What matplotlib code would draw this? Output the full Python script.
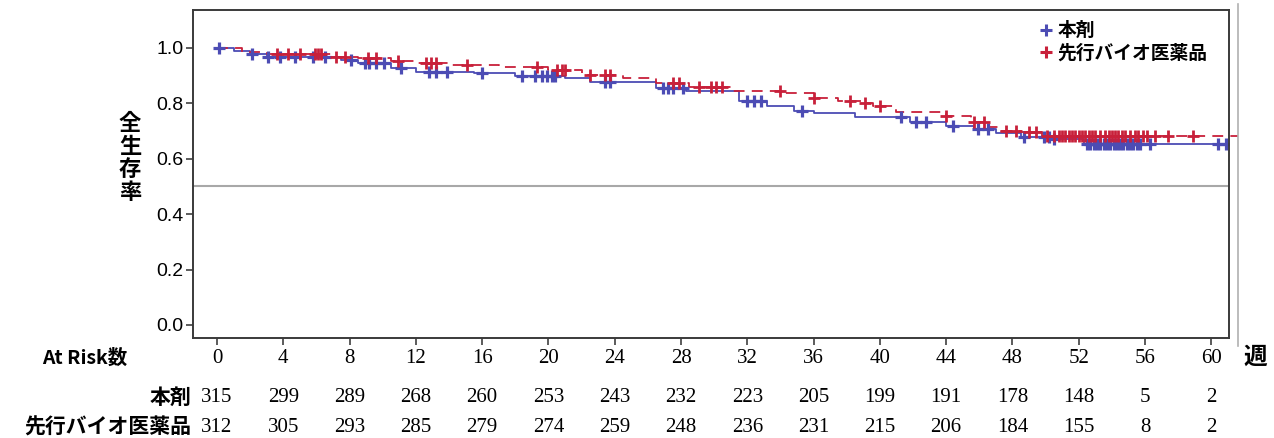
import numpy as np
import matplotlib
matplotlib.use("Agg")
import matplotlib.pyplot as plt
from matplotlib.lines import Line2D

plt.rcParams['font.family'] = ['Noto Sans CJK JP', 'DejaVu Sans']

# Kaplan-Meier steps (weeks, survival)
drug_t = [0, 1.0, 2.0, 3.0, 7.5, 8.5, 10.5, 12.0, 15.5, 18.0, 21.0, 22.5, 26.5,
          28.3, 31.5, 33.2, 34.8, 36.0, 38.5, 41.8, 44.0, 45.7, 47.0, 48.5, 50.5, 52.3]
drug_s = [1.0, 0.99, 0.978, 0.967, 0.955, 0.946, 0.928, 0.912, 0.908, 0.897, 0.89,
          0.877, 0.856, 0.843, 0.81, 0.79, 0.772, 0.764, 0.749, 0.734, 0.718, 0.706,
          0.692, 0.677, 0.673, 0.653]
ref_t = [0, 1.5, 3.0, 7.0, 8.5, 10.5, 12.0, 14.0, 17.0, 20.0, 22.0, 24.5, 26.5,
         28.5, 31.0, 34.2, 36.0, 37.5, 39.0, 39.6, 41.0, 44.0, 45.5, 46.6, 47.3, 48.5, 49.8]
ref_s = [1.0, 0.985, 0.978, 0.969, 0.963, 0.953, 0.945, 0.94, 0.93, 0.92, 0.903, 0.89,
         0.872, 0.86, 0.843, 0.836, 0.821, 0.81, 0.80, 0.79, 0.77, 0.755, 0.734, 0.713,
         0.70, 0.695, 0.683]

# censored observations (weeks)
drug_cens = [0.1, 2.1, 3.1, 3.8, 4.7, 5.8, 6.5, 8.1, 8.9, 9.2, 9.6, 10.1, 11.1, 12.8,
             13.2, 13.9, 16.0, 18.4, 19.2, 19.6, 19.9, 20.2, 20.4, 23.4, 23.7, 26.9,
             27.2, 27.5, 28.1, 32.0, 32.4, 32.8, 35.3, 41.3, 42.2, 42.8, 44.4, 45.9,
             46.5, 48.7, 49.9, 50.2, 50.5, 52.5, 52.7, 52.9, 53.1, 53.3, 53.5, 53.7,
             53.9, 54.1, 54.3, 54.5, 54.7, 54.9, 55.1, 55.3, 55.5, 55.7, 56.3, 60.4, 60.9]
ref_cens = [3.6, 4.3, 5.0, 5.9, 6.1, 6.3, 7.2, 7.7, 9.1, 9.6, 10.9, 12.6, 12.9, 13.2,
            15.1, 19.3, 20.5, 20.8, 21.0, 22.5, 23.4, 23.7, 27.5, 27.9, 29.1, 29.8,
            30.1, 30.5, 34.0, 36.0, 38.2, 39.1, 40.0, 44.0, 45.7, 46.3, 47.6, 48.2,
            49.0, 49.4, 50.1, 50.5, 50.8, 51.0, 51.2, 51.4, 51.6, 51.8, 52.0, 52.2,
            52.4, 52.6, 52.8, 53.0, 53.3, 53.6, 53.8, 54.0, 54.2, 54.4, 54.6, 54.8,
            55.1, 55.4, 55.6, 55.9, 56.1, 56.6, 57.4, 58.9]

weeks = [0, 4, 8, 12, 16, 20, 24, 28, 32, 36, 40, 44, 48, 52, 56, 60]
risk_drug = [315, 299, 289, 268, 260, 253, 243, 232, 223, 205, 199, 191, 178, 148, 5, 2]
risk_ref = [312, 305, 293, 285, 279, 274, 259, 248, 236, 231, 215, 206, 184, 155, 8, 2]

label_drug = '本剤'
label_ref = '先行バイオ医薬品'
blue = '#4c4cb4'
red = '#c8203a'


def surv_at(times, steps_t, steps_s):
    idx = np.searchsorted(steps_t, times, side='right') - 1
    return np.asarray(steps_s)[idx]


fig = plt.figure(figsize=(12.74, 4.38), dpi=100)
ax = fig.add_axes([0.1515, 0.2283, 0.8132, 0.7489])

# survival curves, extended to the end of follow-up
ax.step(drug_t + [61.0], drug_s + [drug_s[-1]], where='post', color=blue, lw=1.3)
ax.step(ref_t + [61.6], ref_s + [ref_s[-1]], where='post', color=red, lw=1.3,
        dashes=(6, 4), clip_on=False)

ax.plot(drug_cens, surv_at(drug_cens, drug_t, drug_s), ls='none', marker='+',
        ms=9, mew=2.3, color=blue)
ax.plot(ref_cens, surv_at(ref_cens, ref_t, ref_s), ls='none', marker='+',
        ms=9, mew=2.0, color=red)

ax.axhline(0.5, color='#a8a8a8', lw=1.5)

ax.set_xlim(-1.45, 61.07)
ax.set_ylim(-0.047, 1.137)
ax.set_xticks(weeks)
ax.set_xticklabels([str(w) for w in weeks], family='Liberation Serif', fontsize=15)
ax.set_yticks([0.0, 0.2, 0.4, 0.6, 0.8, 1.0])
ax.set_yticklabels(['0.0', '0.2', '0.4', '0.6', '0.8', '1.0'],
                   family='Liberation Sans', fontsize=14)
ax.tick_params(direction='out', length=5, width=1.2, color='#404040')
ax.tick_params(axis='x', pad=3)
ax.tick_params(axis='y', pad=2)
for sp in ax.spines.values():
    sp.set_color('#3a3a3a')
    sp.set_linewidth(1.4)

handles = [Line2D([], [], ls='none', marker='+', ms=9, mew=2.2, color=blue),
           Line2D([], [], ls='none', marker='+', ms=9, mew=2.2, color=red)]
ax.legend(handles, [label_drug, label_ref], loc='upper right', frameon=False,
          prop={'family': 'Noto Sans CJK JP', 'weight': 'bold', 'size': 13.5},
          handletextpad=0.1, handlelength=1.0, labelspacing=0.2,
          borderaxespad=0.2, bbox_to_anchor=(0.99, 1.0))

# y label written as stacked characters
fig.text(130 / 1274, 1 - 158 / 438, '全\n生\n存\n率', ha='center', va='center',
         fontsize=16, fontweight='bold', linespacing=1.0)

# number at risk table
fig.text(42 / 1274, 1 - 358 / 438, 'At Risk数', ha='left', va='center',
         fontsize=14, fontweight='bold')
fig.text(1255 / 1274, 1 - 357 / 438, '週', ha='center', va='center',
         fontsize=17, fontweight='bold')
xt = ax.get_xaxis_transform()
for row_y, name, counts in [(397, label_drug, risk_drug), (427, label_ref, risk_ref)]:
    fy = 1 - row_y / 438
    fig.text(191 / 1274, fy, name, ha='right', va='center', fontsize=15,
             fontweight='bold')
    ay = (338 - row_y) / 328
    for w, n in zip(weeks, counts):
        ax.text(w, ay, str(n), transform=xt, ha='center', va='center',
                family='Liberation Serif', fontsize=15, clip_on=False)

# thin frame line on the right
fig.add_artist(Line2D([1238 / 1274, 1238 / 1274], [1 - 4 / 438, 1 - 346 / 438],
                      transform=fig.transFigure, color='#b0b0b0', lw=1.2))

fig.savefig('out.png', dpi=100)
